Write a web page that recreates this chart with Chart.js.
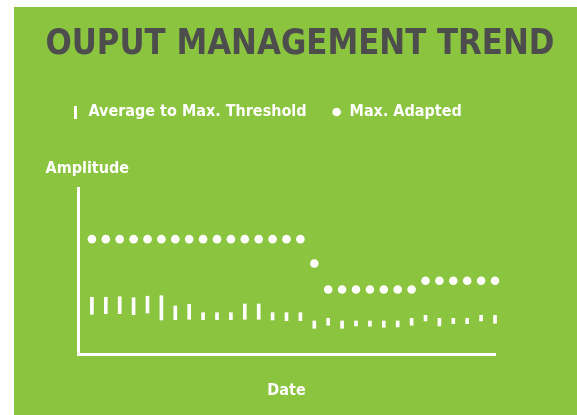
<!DOCTYPE html>
<html>
<head>
<meta charset="utf-8">
<script src="https://cdn.jsdelivr.net/npm/chart.js@4"></script>
<style>
  html, body { margin: 0; padding: 0; background: #fff; }
  #wrap { position: absolute; left: 14px; top: 7px; width: 563px; height: 408px; background: #8BC43F; }
</style>
</head>
<body>
<div id="wrap"><canvas id="myChart"></canvas></div>
<script>
// day index along the Date axis (no tick labels shown in the picture)
const days = [1, 2, 3, 4, 5, 6, 7, 8, 9, 10, 11, 12, 13, 14, 15,
              16, 17, 18, 19, 20, 21, 22, 23, 24, 25, 26, 27, 28, 29, 30];

// Average to Max. Threshold: bottom and top of each little bar
const thresholdLow = [23.9, 24.3, 24.3, 23.7, 24.7, 20.5, 20.7, 20.9, 20.7, 20.7,
                      20.7, 20.9, 20.9, 20.5, 20.1, 20.1, 15.5, 17.3, 15.5, 16.9,
                      16.7, 16.1, 16.3, 17.3, 19.9, 16.9, 18.3, 18.3, 19.9, 18.5];
const thresholdHigh = [34.2, 34.2, 34.5, 33.9, 34.8, 35.1, 28.9, 29.9, 24.9, 24.9,
                       24.9, 30.1, 30.1, 24.9, 24.9, 24.9, 19.9, 21.5, 19.9, 19.9,
                       19.9, 19.9, 19.9, 21.5, 23.3, 21.5, 21.5, 21.5, 23.3, 23.3];

// Max. Adapted dots
const maxAdapted = [69.2, 69.2, 69.2, 69.2, 69.2, 69.2, 69.2, 69.2, 69.2, 69.2,
                    69.2, 69.2, 69.2, 69.2, 69.2, 69.2, 54.5, 38.9, 38.9, 38.9,
                    38.9, 38.9, 38.9, 38.9, 44.1, 44.1, 44.1, 44.1, 44.1, 44.1];

const seriesNames = ['Average to Max. Threshold', 'Max. Adapted'];

const FONT = "'DejaVu Sans Condensed', 'Liberation Sans Narrow', 'Liberation Sans', sans-serif";
Chart.defaults.font.family = FONT;

// little legend symbols: a white tick and a white dot
function makeMarker(w, h, draw) {
    const c = document.createElement('canvas');
    c.width = w; c.height = h;
    const g = c.getContext('2d');
    g.fillStyle = '#ffffff';
    draw(g);
    return c;
}
const tickMarker = makeMarker(3, 13, g => g.fillRect(0, 0, 3, 13));
const dotMarker = makeMarker(10, 10, g => { g.beginPath(); g.arc(5, 5, 4.3, 0, Math.PI * 2); g.fill(); });

var ctx = document.getElementById('myChart').getContext('2d');

var chart = new Chart(ctx, {
    type: 'bar',
    data: {
        datasets: [{
            type: 'bar',
            label: seriesNames[0],
            data: days.map((d, i) => ({x: d, y: [thresholdLow[i], thresholdHigh[i]]})),
            backgroundColor: '#ffffff',
            borderWidth: 0,
            barThickness: 3,
            clip: false
        }, {
            type: 'line',
            label: seriesNames[1],
            data: days.map((d, i) => ({x: d, y: maxAdapted[i]})),
            showLine: false,
            pointRadius: 4.3,
            pointBorderWidth: 0,
            pointBackgroundColor: '#ffffff',
            clip: false
        }]
    },
    options: {
        responsive: true,
        maintainAspectRatio: false,
        animation: false,
        layout: { padding: { left: 31.5, right: 22.5, top: 0, bottom: 0 } },
        plugins: {
            title: {
                display: true,
                text: 'OUPUT MANAGEMENT TREND',
                color: '#4D4D4D',
                font: { size: 35, weight: 'bold', lineHeight: 1 },
                padding: { top: 20.5, bottom: 16.5 }
            },
            legend: {
                display: true,
                align: 'start',
                labels: {
                    usePointStyle: true,
                    boxWidth: 10,
                    boxHeight: 10,
                    padding: 25,
                    color: '#ffffff',
                    font: { size: 16, weight: 'bold' },
                    generateLabels: () => [
                        {text: seriesNames[0], pointStyle: tickMarker, lineWidth: 0,
                         fillStyle: '#ffffff', fontColor: '#ffffff', datasetIndex: 0},
                        {text: seriesNames[1], pointStyle: dotMarker, lineWidth: 0,
                         fillStyle: '#ffffff', fontColor: '#ffffff', datasetIndex: 1}
                    ]
                }
            },
            subtitle: {
                display: true,
                text: 'Amplitude',
                align: 'start',
                weight: 500,
                color: '#ffffff',
                font: { size: 16, weight: 'bold', lineHeight: 1 },
                padding: { top: 31, bottom: 11 }
            },
            tooltip: { enabled: false }
        },
        scales: {
            x: {
                type: 'linear',
                min: 0,
                max: 30,
                offset: false,
                grid: { display: false, drawTicks: false },
                border: { display: true, color: '#ffffff', width: 3 },
                ticks: { display: false },
                title: {
                    display: true,
                    text: 'Date',
                    color: '#ffffff',
                    font: { size: 16, weight: 'bold', lineHeight: 1.2 },
                    padding: { top: 0, bottom: 14.4 }
                },
                afterFit: s => { s.height = 61; }
            },
            y: {
                type: 'linear',
                min: 0,
                max: 100,
                grid: { display: false, drawTicks: false },
                border: { display: true, color: '#ffffff', width: 3 },
                ticks: { display: false },
                afterFit: s => { s.width = 32.5; }
            },
            yRight: {
                type: 'linear',
                position: 'right',
                display: true,
                grid: { display: false, drawTicks: false },
                border: { display: false },
                ticks: { display: false },
                afterFit: s => { s.width = 59.5; }
            }
        }
    }
});
</script>
</body>
</html>
